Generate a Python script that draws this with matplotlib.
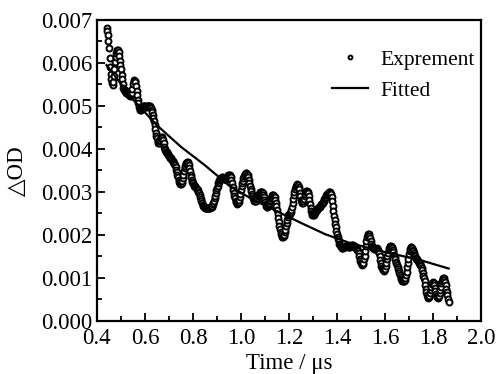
import numpy as np
import matplotlib
matplotlib.use("Agg")
import matplotlib.pyplot as plt
from matplotlib.ticker import MultipleLocator, FormatStrFormatter

# ---- data ----
t_start = 0.44      # first sample time (us)
t_step = 0.0025     # sample spacing (us)
expt_od_milli = [
    6.82, 6.75, 6.65, 6.52, 6.35, 6.12, 5.90, 5.74, 5.62, 5.53,
    5.48, 5.56, 5.70, 5.87, 6.03, 6.14, 6.22, 6.27, 6.30, 6.29,
    6.25, 6.16, 6.05, 5.95, 5.85, 5.73, 5.62, 5.51, 5.42, 5.38,
    5.36, 5.34, 5.32, 5.31, 5.30, 5.29, 5.28, 5.26, 5.25, 5.23,
    5.22, 5.25, 5.30, 5.40, 5.50, 5.57, 5.60, 5.59, 5.55, 5.46,
    5.35, 5.25, 5.15, 5.06, 4.98, 4.93, 4.90, 4.91, 4.93, 4.96,
    4.98, 4.99, 5.00, 5.00, 4.99, 4.98, 4.98, 4.99, 5.00, 5.01,
    5.01, 5.01, 5.00, 4.98, 4.96, 4.91, 4.85, 4.79, 4.72, 4.64,
    4.55, 4.46, 4.38, 4.31, 4.25, 4.19, 4.15, 4.15, 4.18, 4.22,
    4.26, 4.28, 4.28, 4.25, 4.20, 4.13, 4.05, 4.00, 3.97, 3.94,
    3.92, 3.90, 3.88, 3.86, 3.84, 3.82, 3.80, 3.78, 3.76, 3.74,
    3.72, 3.70, 3.68, 3.65, 3.62, 3.57, 3.52, 3.46, 3.40, 3.34,
    3.28, 3.23, 3.20, 3.18, 3.18, 3.20, 3.25, 3.32, 3.40, 3.48,
    3.55, 3.61, 3.65, 3.68, 3.70, 3.70, 3.68, 3.62, 3.55, 3.48,
    3.40, 3.34, 3.28, 3.24, 3.20, 3.17, 3.15, 3.13, 3.12, 3.10,
    3.08, 3.06, 3.04, 3.01, 2.97, 2.93, 2.88, 2.83, 2.78, 2.74,
    2.70, 2.68, 2.66, 2.64, 2.63, 2.62, 2.62, 2.62, 2.62, 2.62,
    2.62, 2.62, 2.63, 2.64, 2.65, 2.66, 2.68, 2.71, 2.75, 2.80,
    2.85, 2.91, 2.98, 3.04, 3.10, 3.15, 3.20, 3.24, 3.27, 3.30,
    3.32, 3.33, 3.34, 3.34, 3.33, 3.31, 3.30, 3.30, 3.30, 3.31,
    3.33, 3.35, 3.37, 3.39, 3.40, 3.40, 3.38, 3.34, 3.28, 3.20,
    3.12, 3.05, 2.98, 2.91, 2.85, 2.80, 2.76, 2.74, 2.73, 2.74,
    2.76, 2.81, 2.88, 2.96, 3.05, 3.13, 3.20, 3.26, 3.32, 3.37,
    3.40, 3.42, 3.43, 3.43, 3.42, 3.39, 3.35, 3.29, 3.22, 3.15,
    3.08, 3.02, 2.96, 2.91, 2.86, 2.83, 2.80, 2.79, 2.79, 2.80,
    2.83, 2.86, 2.90, 2.93, 2.96, 2.98, 3.00, 3.01, 3.01, 3.00,
    2.97, 2.93, 2.88, 2.82, 2.76, 2.72, 2.68, 2.66, 2.66, 2.67,
    2.70, 2.74, 2.78, 2.82, 2.86, 2.89, 2.92, 2.93, 2.93, 2.91,
    2.88, 2.82, 2.75, 2.67, 2.58, 2.49, 2.40, 2.31, 2.22, 2.15,
    2.08, 2.02, 1.98, 1.96, 1.95, 1.97, 2.00, 2.06, 2.12, 2.20,
    2.28, 2.35, 2.42, 2.46, 2.48, 2.49, 2.50, 2.53, 2.58, 2.66,
    2.75, 2.84, 2.92, 2.99, 3.06, 3.11, 3.15, 3.17, 3.18, 3.16,
    3.12, 3.06, 2.98, 2.90, 2.82, 2.78, 2.75, 2.75, 2.78, 2.84,
    2.90, 2.95, 3.00, 3.02, 3.03, 3.01, 2.98, 2.91, 2.82, 2.72,
    2.62, 2.55, 2.50, 2.47, 2.46, 2.46, 2.48, 2.50, 2.53, 2.55,
    2.58, 2.60, 2.62, 2.63, 2.65, 2.66, 2.68, 2.69, 2.71, 2.73,
    2.75, 2.77, 2.80, 2.83, 2.86, 2.89, 2.92, 2.94, 2.96, 2.98,
    2.99, 3.00, 3.00, 2.98, 2.95, 2.88, 2.80, 2.68, 2.55, 2.45,
    2.35, 2.26, 2.18, 2.10, 2.02, 1.96, 1.90, 1.85, 1.80, 1.77,
    1.74, 1.72, 1.70, 1.70, 1.70, 1.71, 1.72, 1.73, 1.74, 1.75,
    1.75, 1.75, 1.74, 1.73, 1.73, 1.73, 1.74, 1.75, 1.76, 1.76,
    1.76, 1.75, 1.74, 1.73, 1.72, 1.71, 1.70, 1.68, 1.66, 1.62,
    1.58, 1.52, 1.45, 1.40, 1.35, 1.32, 1.31, 1.32, 1.35, 1.43,
    1.52, 1.63, 1.75, 1.86, 1.95, 2.00, 2.03, 2.02, 1.98, 1.92,
    1.85, 1.79, 1.74, 1.72, 1.70, 1.69, 1.68, 1.68, 1.68, 1.68,
    1.69, 1.68, 1.66, 1.63, 1.58, 1.50, 1.42, 1.35, 1.28, 1.23,
    1.20, 1.18, 1.17, 1.19, 1.22, 1.28, 1.35, 1.43, 1.52, 1.59,
    1.65, 1.69, 1.72, 1.74, 1.74, 1.73, 1.70, 1.66, 1.60, 1.54,
    1.48, 1.43, 1.38, 1.34, 1.30, 1.26, 1.22, 1.17, 1.12, 1.07,
    1.02, 0.98, 0.95, 0.93, 0.92, 0.92, 0.93, 0.96, 1.00, 1.07,
    1.15, 1.25, 1.35, 1.45, 1.55, 1.62, 1.68, 1.71, 1.72, 1.70,
    1.66, 1.62, 1.58, 1.54, 1.50, 1.47, 1.45, 1.43, 1.42, 1.40,
    1.38, 1.36, 1.34, 1.31, 1.28, 1.23, 1.18, 1.12, 1.05, 0.99,
    0.92, 0.84, 0.75, 0.67, 0.60, 0.56, 0.54, 0.55, 0.58, 0.64,
    0.72, 0.79, 0.86, 0.89, 0.91, 0.88, 0.84, 0.77, 0.70, 0.63,
    0.58, 0.55, 0.54, 0.55, 0.58, 0.64, 0.72, 0.80, 0.88, 0.93,
    0.97, 0.99, 0.99, 0.95, 0.90, 0.83, 0.75, 0.67, 0.60, 0.52,
    0.45,
]
fit_time = [0.44, 0.55, 0.65, 0.75, 0.85, 0.95, 1.05, 1.15, 1.25, 1.35,
            1.45, 1.55, 1.65, 1.75, 1.865]
fit_od_milli = [5.95, 5.15, 4.55, 4.05, 3.62, 3.15, 2.82, 2.55, 2.28, 2.02,
                1.82, 1.67, 1.54, 1.41, 1.22]

expt_time = t_start + t_step * np.arange(len(expt_od_milli))
expt_od = np.array(expt_od_milli) * 1e-3
fit_od = np.array(fit_od_milli) * 1e-3

plt.rcParams['font.family'] = ['Liberation Serif', 'DejaVu Serif']

fig = plt.figure(figsize=(4.97, 3.74), dpi=100)
ax = fig.add_axes([0.195, 0.1417, 0.773, 0.805])

ax.plot(expt_time, expt_od, linestyle='none', marker='o', markersize=4.3,
        markerfacecolor='white', markeredgecolor='black', markeredgewidth=1.4,
        label='Exprement', zorder=2)
ax.plot(fit_time, fit_od, color='black', linewidth=1.6, label='Fitted', zorder=3)

ax.set_xlim(0.4, 2.0)
ax.set_ylim(0.0, 0.007)
ax.xaxis.set_major_locator(MultipleLocator(0.2))
ax.xaxis.set_minor_locator(MultipleLocator(0.1))
ax.yaxis.set_major_locator(MultipleLocator(0.001))
ax.yaxis.set_minor_locator(MultipleLocator(0.0005))
ax.xaxis.set_major_formatter(FormatStrFormatter('%.1f'))
ax.yaxis.set_major_formatter(FormatStrFormatter('%.3f'))
ax.tick_params(which='both', direction='in', top=False, right=False,
               labelsize=16.5, width=1.3)
ax.tick_params(axis='y', pad=3.5)
ax.tick_params(axis='x', pad=5)
ax.tick_params(which='major', length=6)
ax.tick_params(which='minor', length=3.5)
for s in ax.spines.values():
    s.set_linewidth(1.6)

ax.set_xlabel('Time / μs', fontsize=16.5, labelpad=3)
ax.set_ylabel('△OD', fontsize=16.5, labelpad=9)

leg = ax.legend(loc='upper left', bbox_to_anchor=(0.612, 0.901),
                frameon=False, fontsize=15.5, markerscale=0.65,
                handlelength=1.67, handletextpad=0.56,
                borderaxespad=0.0, borderpad=0.0, labelspacing=0.5)

fig.savefig('out.png', dpi=100)
